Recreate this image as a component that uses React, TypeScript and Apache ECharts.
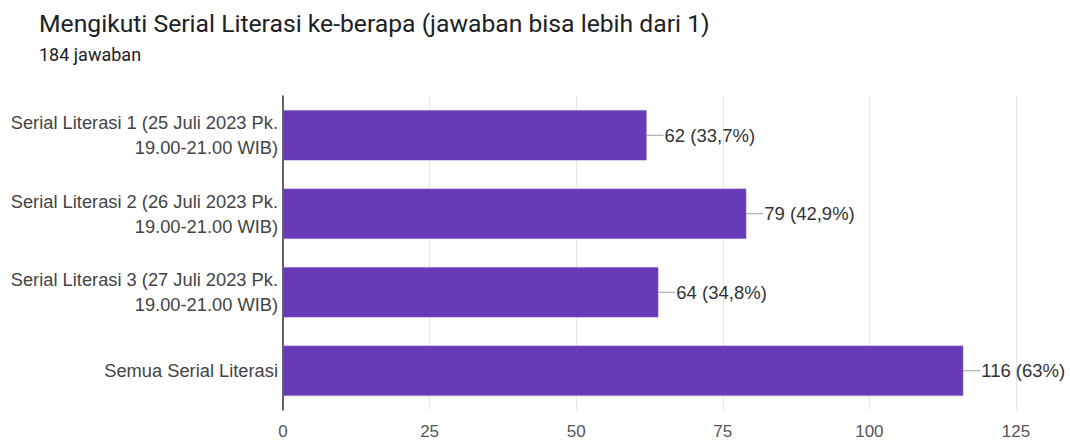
import React, { useEffect, useRef } from "react";
import * as echarts from "echarts";

const categories = [
  "Serial Literasi 1 (25 Juli 2023 Pk.\n19.00-21.00 WIB)",
  "Serial Literasi 2 (26 Juli 2023 Pk.\n19.00-21.00 WIB)",
  "Serial Literasi 3 (27 Juli 2023 Pk.\n19.00-21.00 WIB)",
  "Semua Serial Literasi",
];
const counts = [62, 79, 64, 116];
const percents = ["33,7%", "42,9%", "34,8%", "63%"];
const xTicks = [0, 25, 50, 75, 100, 125];

export default function App() {
  const ref = useRef<HTMLDivElement>(null);
  useEffect(() => {
    if (!ref.current) return;
    const chart = echarts.init(ref.current, undefined, { renderer: "svg" });
    chart.setOption({
      animation: false,
      backgroundColor: "#ffffff",
      title: {
        text: "Mengikuti Serial Literasi ke-berapa (jawaban bisa lebih dari 1)",
        subtext: "184 jawaban",
        left: 34,
        top: 6,
        itemGap: 9,
        textStyle: { fontFamily: "Roboto", fontSize: 24.7, fontWeight: "normal", color: "#202124" },
        subtextStyle: { fontFamily: "Roboto", fontSize: 18, color: "#202124" },
      },
      grid: { left: 283, right: 54, top: 96, bottom: 31, containLabel: false },
      xAxis: {
        type: "value",
        min: xTicks[0],
        max: xTicks[xTicks.length - 1],
        interval: 25,
        axisLine: { show: false },
        axisTick: { show: false },
        splitLine: { lineStyle: { color: "#e6e6e6", width: 1 } },
        axisLabel: { fontFamily: "Liberation Sans", fontSize: 17, color: "#555", margin: 13 },
      },
      yAxis: {
        type: "category",
        inverse: true,
        data: categories,
        axisLine: { show: true, lineStyle: { color: "#333", width: 1.5 } },
        axisTick: { show: false },
        splitLine: { show: false },
        axisLabel: {
          fontFamily: "Liberation Sans",
          fontSize: 18.3,
          color: "#444",
          margin: 5,
          lineHeight: 25,
          align: "right",
        },
      },
      series: [
        {
          type: "bar",
          data: counts,
          barWidth: "64%",
          itemStyle: { color: "#673ab7", borderColor: "#7e57c2", borderWidth: 0.5 },
          label: {
            show: true,
            position: "right",
            distance: 0,
            formatter: (p: any) => `{ln|}{t|${counts[p.dataIndex]} (${percents[p.dataIndex]})}`,
            rich: {
              ln: { width: 17, height: 1, backgroundColor: "#9e9e9e" },
              t: { fontFamily: "Liberation Sans", fontSize: 18.5, color: "#333", padding: [0, 0, 0, 1] },
            },
          },
        },
      ],
    });
    return () => chart.dispose();
  }, []);
  return <div ref={ref} style={{ width: 1070, height: 441, position: "absolute", left: 0, top: 0 }} />;
}
